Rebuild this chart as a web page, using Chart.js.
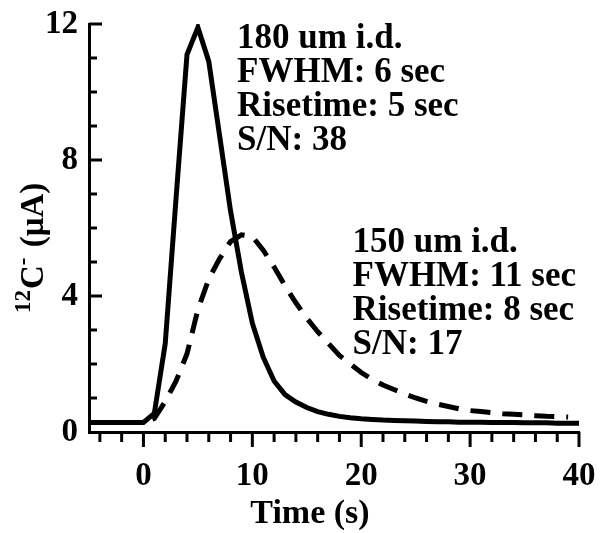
<!DOCTYPE html>
<html>
<head>
<meta charset="utf-8">
<script src="https://cdn.jsdelivr.net/npm/chart.js@4/dist/chart.umd.min.js"></script>
<style>
  html, body { margin: 0; padding: 0; background: #fff; }
  #wrap { width: 602px; height: 533px; position: relative; }
</style>
</head>
<body>
<div id="wrap"><canvas id="chart"></canvas></div>
<script>
// time axis (s) and the two transients (uA)
const timeSec = [-5, -4, -3, -2, -1, 0, 1, 2, 3, 4, 5, 6, 7, 8, 9, 10,
    11, 12, 13, 14, 15, 16, 17, 18, 19, 20, 21, 22, 23, 24, 25,
    26, 27, 28, 29, 30, 31, 32, 33, 34, 35, 36, 37, 38, 39, 40];

const id180 = [0.28, 0.28, 0.28, 0.28, 0.28, 0.28, 0.55, 2.6, 6.9, 11.1, 11.9, 10.9, 8.7, 6.5, 4.7, 3.2,
    2.2, 1.5, 1.1, 0.88, 0.72, 0.6, 0.52, 0.46, 0.42, 0.39, 0.37, 0.35, 0.34, 0.33, 0.32,
    0.31, 0.3, 0.3, 0.29, 0.29, 0.29, 0.28, 0.28, 0.28, 0.27, 0.27, 0.27, 0.26, 0.26, 0.26];

const id150 = [0.28, 0.28, 0.28, 0.28, 0.28, 0.28, 0.4, 0.9, 1.5, 2.3, 3.6, 4.5, 5.1, 5.6, 5.8, 5.75,
    5.35, 4.85, 4.3, 3.8, 3.35, 2.95, 2.6, 2.25, 2.0, 1.75, 1.55, 1.38, 1.25, 1.12, 1.0,
    0.9, 0.82, 0.75, 0.68, 0.63, 0.6, 0.57, 0.54, 0.52, 0.5, 0.48, 0.46, 0.45, 0.44, null];

const xTickLabels = [0, 10, 20, 30, 40];
const yTickLabels = [0, 4, 8, 12];

// text blocks, anchored in data units (time, current)
const note180 = ['180 um i.d.', 'FWHM: 6 sec', 'Risetime: 5 sec', 'S/N: 38'];
const note180At = [8.6, 11.3];
const note150 = ['150 um i.d.', 'FWHM: 11 sec', 'Risetime: 8 sec', 'S/N: 17'];
const note150At = [19.2, 5.3];

const SERIF = '"Liberation Serif", "Times New Roman", serif';

function toPoints(vals) {
    return timeSec.map((t, i) => ({ x: t, y: vals[i] }));
}

// tick marks (y inward, x outward), notes and axis titles
const decorPlugin = {
    id: 'decor',
    afterDraw(chart) {
        const ctx = chart.ctx;
        const xs = chart.scales.x;
        const ys = chart.scales.y;
        const area = chart.chartArea;
        ctx.save();
        ctx.strokeStyle = '#000';
        ctx.lineWidth = 3;
        ctx.lineCap = 'butt';

        for (let v = 1; v <= 12; v++) {
            const py = ys.getPixelForValue(v);
            const len = v % 4 === 0 ? 13 : 8;
            ctx.beginPath();
            ctx.moveTo(area.left, py);
            ctx.lineTo(area.left + len, py);
            ctx.stroke();
        }
        for (let t = -4; t <= 40; t += 2) {
            const px = xs.getPixelForValue(t);
            const len = t % 10 === 0 ? 15 : 10;
            ctx.beginPath();
            ctx.moveTo(px, area.bottom);
            ctx.lineTo(px, area.bottom + len);
            ctx.stroke();
        }

        ctx.fillStyle = '#000';
        ctx.font = 'bold 35px ' + SERIF;
        ctx.textAlign = 'left';
        ctx.textBaseline = 'alphabetic';
        [[note180, note180At], [note150, note150At]].forEach(([lines, at]) => {
            const x0 = xs.getPixelForValue(at[0]);
            const y0 = ys.getPixelForValue(at[1]);
            lines.forEach((s, i) => ctx.fillText(s, x0, y0 + i * 34));
        });

        // x title
        ctx.textAlign = 'center';
        ctx.font = 'bold 34px ' + SERIF;
        ctx.fillText('Time (s)', 310, 523);

        // y title: superscript 12, C, superscript minus, (μA)
        ctx.translate(43, 313);
        ctx.rotate(-Math.PI / 2);
        ctx.textAlign = 'left';
        let cx = 0;
        ctx.font = 'bold 23px ' + SERIF;
        ctx.fillText('12', cx, -13);
        cx += ctx.measureText('12').width + 1;
        ctx.font = 'bold 33px ' + SERIF;
        ctx.fillText('C', cx, 0);
        cx += ctx.measureText('C').width;
        ctx.font = 'bold 23px ' + SERIF;
        ctx.fillText('-', cx, -13);
        cx += ctx.measureText('-').width + 2;
        ctx.font = 'bold 33px ' + SERIF;
        ctx.fillText(' (\u03bcA)', cx, 0);
        ctx.restore();
    }
};

const chart = new Chart(document.getElementById('chart'), {
    type: 'line',
    data: {
        datasets: [
            {
                label: '180 um i.d.',
                data: toPoints(id180),
                borderColor: '#000',
                borderWidth: 5,
                borderJoinStyle: 'miter',
                pointRadius: 0,
                tension: 0,
                fill: false
            },
            {
                label: '150 um i.d.',
                data: toPoints(id150),
                borderColor: '#000',
                borderWidth: 5,
                borderDash: [20, 12],
                pointRadius: 0,
                tension: 0,
                fill: false,
                spanGaps: false
            }
        ]
    },
    options: {
        responsive: true,
        maintainAspectRatio: false,
        animation: false,
        events: [],
        layout: { padding: { left: 0, right: 23, top: 24, bottom: 0 } },
        plugins: {
            legend: { display: false },
            tooltip: { enabled: false },
            title: { display: false }
        },
        scales: {
            x: {
                type: 'linear',
                min: -5,
                max: 40,
                afterFit: (s) => { s.height = 101; s.paddingLeft = 0; s.paddingRight = 0; },
                afterBuildTicks: (s) => { s.ticks = xTickLabels.map(v => ({ value: v })); },
                grid: { display: false, drawTicks: false },
                border: { display: true, color: '#000', width: 3 },
                ticks: {
                    color: '#000',
                    padding: 25,
                    maxRotation: 0,
                    font: { family: SERIF, size: 33, weight: 'bold' }
                }
            },
            y: {
                min: 0,
                max: 12,
                afterFit: (s) => { s.width = 89; s.paddingTop = 0; s.paddingBottom = 0; },
                afterBuildTicks: (s) => { s.ticks = yTickLabels.map(v => ({ value: v })); },
                grid: { display: false, drawTicks: false },
                border: { display: true, color: '#000', width: 3 },
                ticks: {
                    color: '#000',
                    padding: 11,
                    font: { family: SERIF, size: 33, weight: 'bold' }
                }
            }
        }
    },
    plugins: [decorPlugin]
});
</script>
</body>
</html>
